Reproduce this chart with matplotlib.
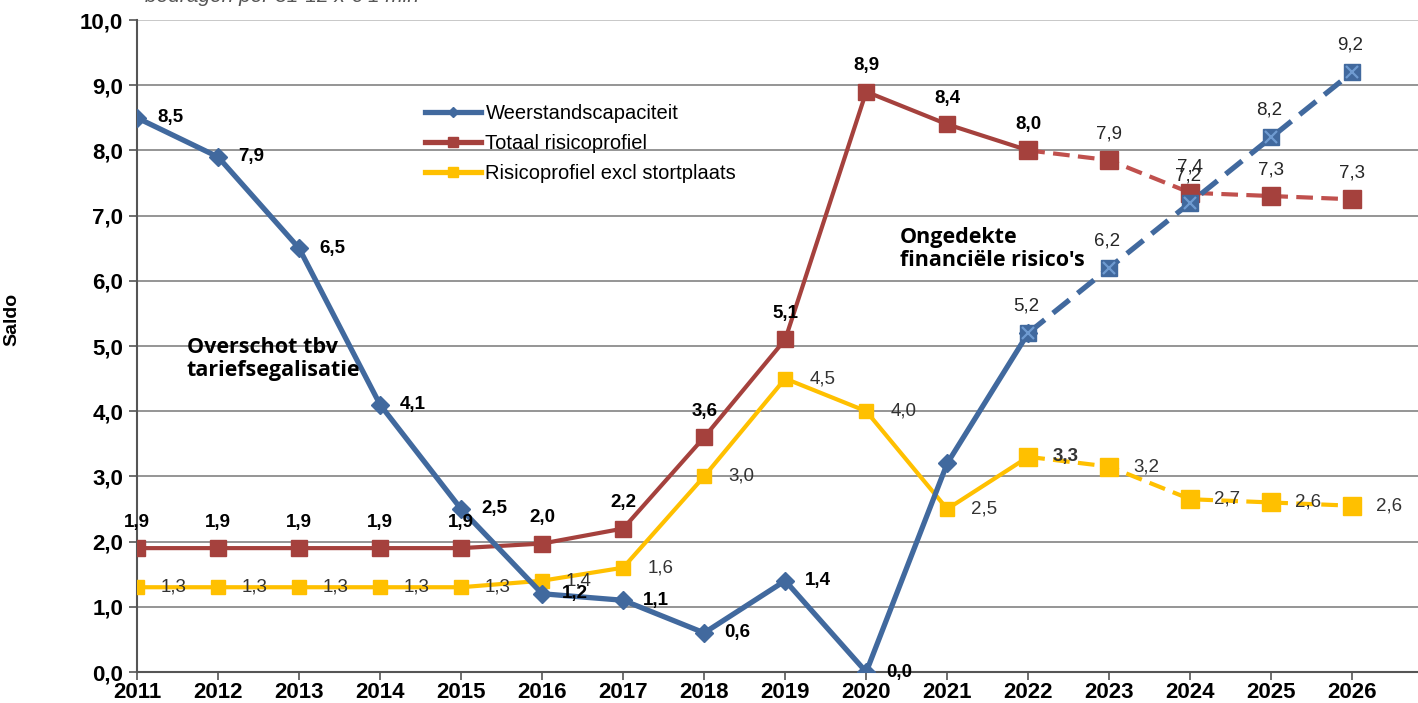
import matplotlib.pyplot as plt
from matplotlib.lines import Line2D
import numpy as np

plt.rcParams['font.family'] = ['Liberation Sans', 'DejaVu Sans']

# data
years = list(range(2011, 2027))
weerstand = [8.5, 7.9, 6.5, 4.1, 2.5, 1.2, 1.1, 0.6, 1.4, 0.0, 3.2, 5.2, 6.2, 7.2, 8.2, 9.2]
totaal = [1.9, 1.9, 1.9, 1.9, 1.9, 1.97, 2.2, 3.6, 5.1, 8.9, 8.4, 8.0, 7.85, 7.35, 7.3, 7.25]
excl = [1.3, 1.3, 1.3, 1.3, 1.3, 1.4, 1.6, 3.0, 4.5, 4.0, 2.5, 3.3, 3.15, 2.65, 2.6, 2.55]
weerstand_labels = ['8,5', '7,9', '6,5', '4,1', '2,5', '1,2', '1,1', '0,6', '1,4', '0,0', '',
                    '5,2', '6,2', '7,2', '8,2', '9,2']
totaal_labels = ['1,9', '1,9', '1,9', '1,9', '1,9', '2,0', '2,2', '3,6', '5,1', '8,9', '8,4',
                 '8,0', '7,9', '7,4', '7,3', '7,3']
excl_labels = ['1,3', '1,3', '1,3', '1,3', '1,3', '1,4', '1,6', '3,0', '4,5', '4,0', '2,5',
               '3,3', '3,2', '2,7', '2,6', '2,6']
split = 11  # index of 2022, prognosis starts here

BLUE = '#41699E'
RED = '#A5413D'
YELLOW = '#FFC000'

fig = plt.figure(figsize=(14.18, 7.03), dpi=100)
ax = fig.add_axes([137 / 1418, 1 - 672 / 703, 1 - 137 / 1418, (672 - 20) / 703])

x = np.array(years)
dash = (0, (4, 2))

# realised (solid)
ax.plot(x[:split + 1], totaal[:split + 1], color=RED, lw=3.0, marker='s', ms=12,
        zorder=3, solid_capstyle='round')
ax.plot(x[:split + 1], excl[:split + 1], color=YELLOW, lw=3.0, marker='s', ms=10,
        zorder=3, solid_capstyle='round')
ax.plot(x[:split + 1], weerstand[:split + 1], color=BLUE, lw=3.8, marker='D', ms=9,
        zorder=4, solid_capstyle='round')

# prognosis (dashed)
ax.plot(x[split:], totaal[split:], color='#C0504D', lw=3.0, ls=dash, zorder=3)
ax.plot(x[split:], totaal[split:], color=RED, lw=0, marker='s', ms=13, zorder=4)
ax.plot(x[split:], excl[split:], color=YELLOW, lw=3.0, ls=dash, zorder=3)
ax.plot(x[split:], excl[split:], color=YELLOW, lw=0, marker='s', ms=13, zorder=4)
ax.plot(x[split:], weerstand[split:], color=BLUE, lw=3.8, ls=dash, zorder=4)
ax.plot(x[split:], weerstand[split:], color=BLUE, lw=0, marker='s', ms=11, zorder=5)
ax.plot(x[split:], weerstand[split:], color='#6F9BD1', lw=0, marker='x', ms=8,
        mew=1.6, zorder=6)

# data labels
LBL = 13.5
for i, (yr, v) in enumerate(zip(years, weerstand)):
    if not weerstand_labels[i]:
        continue
    if i < split:
        ax.annotate(weerstand_labels[i], (yr, v), xytext=(20, 0), textcoords='offset pixels',
                    ha='left', va='center', fontsize=LBL, fontweight='bold', zorder=7)
    else:
        ax.annotate(weerstand_labels[i], (yr, v), xytext=(-2, 27), textcoords='offset pixels',
                    ha='center', va='center', fontsize=LBL, color='#262626', zorder=7)

for i, (yr, v) in enumerate(zip(years, totaal)):
    bold = i <= split
    ax.annotate(totaal_labels[i], (yr, v), xytext=(0, 26), textcoords='offset pixels',
                ha='center', va='center', fontsize=LBL,
                fontweight='bold' if bold else 'normal',
                color='black' if bold else '#262626', zorder=7)

for i, (yr, v) in enumerate(zip(years, excl)):
    ax.annotate(excl_labels[i], (yr, v), xytext=(24, 0), textcoords='offset pixels',
                ha='left', va='center', fontsize=LBL,
                fontweight='bold' if yr == 2022 else 'normal',
                color='#333333', zorder=7)

# axes styling
ax.set_xlim(2011, 2026.81)
ax.set_ylim(0, 10)
ax.set_xticks(years)
ax.set_xticklabels([str(y) for y in years], fontsize=16, fontweight='bold')
ax.set_yticks(np.arange(0, 11, 1))
ax.set_yticklabels([f'{v},0' for v in range(11)], fontsize=16, fontweight='bold')
ax.tick_params(axis='both', direction='out', length=6, width=1.2, color='#555555', pad=4)
ax.tick_params(axis='x', pad=1)
ax.yaxis.grid(True, color='#8C8C8C', lw=1.3)
ax.yaxis.get_gridlines()[-1].set_color('#C4C4C4')
ax.set_axisbelow(True)
for side in ['top', 'right']:
    ax.spines[side].set_visible(False)
for side in ['left', 'bottom']:
    ax.spines[side].set_color('#555555')
    ax.spines[side].set_linewidth(1.5)
ax.set_ylabel('Saldo', fontsize=14, fontweight='bold')
ax.yaxis.set_label_coords(-0.091, 0.54)

# legend
handles = [
    Line2D([], [], color=BLUE, lw=3.8, marker='D', ms=5),
    Line2D([], [], color=RED, lw=3.8, marker='s', ms=7),
    Line2D([], [], color=YELLOW, lw=3.8, marker='s', ms=7),
]
names = ['Weerstandscapaciteit', 'Totaal risicoprofiel', 'Risicoprofiel excl stortplaats']
ax.legend(handles, names, loc='upper left', bbox_to_anchor=(425 / 1418, 1 - 104 / 703),
          bbox_transform=fig.transFigure, frameon=False, fontsize=14.5,
          handlelength=2.8, handletextpad=0.2, labelspacing=0.55, borderpad=0,
          borderaxespad=0)

# annotations
fig.text(187 / 1418, 1 - 359 / 703, 'Overschot tbv\ntariefsegalisatie', fontsize=15.5,
         fontweight='bold', family=['Open Sans', 'DejaVu Sans'], va='center',
         linespacing=1.1)
fig.text(900 / 1418, 1 - 249 / 703, "Ongedekte\nfinanciële risico's", fontsize=15.5,
         fontweight='bold', family=['Open Sans', 'DejaVu Sans'], va='center',
         linespacing=1.1)

# cut-off subtitle at the top
fig.text(145 / 1418, 1 + 3 / 703, 'bedragen per 31-12 x € 1 mln', fontsize=15,
         style='italic', color='#555555', va='center')

fig.savefig('out.png', dpi=100)
